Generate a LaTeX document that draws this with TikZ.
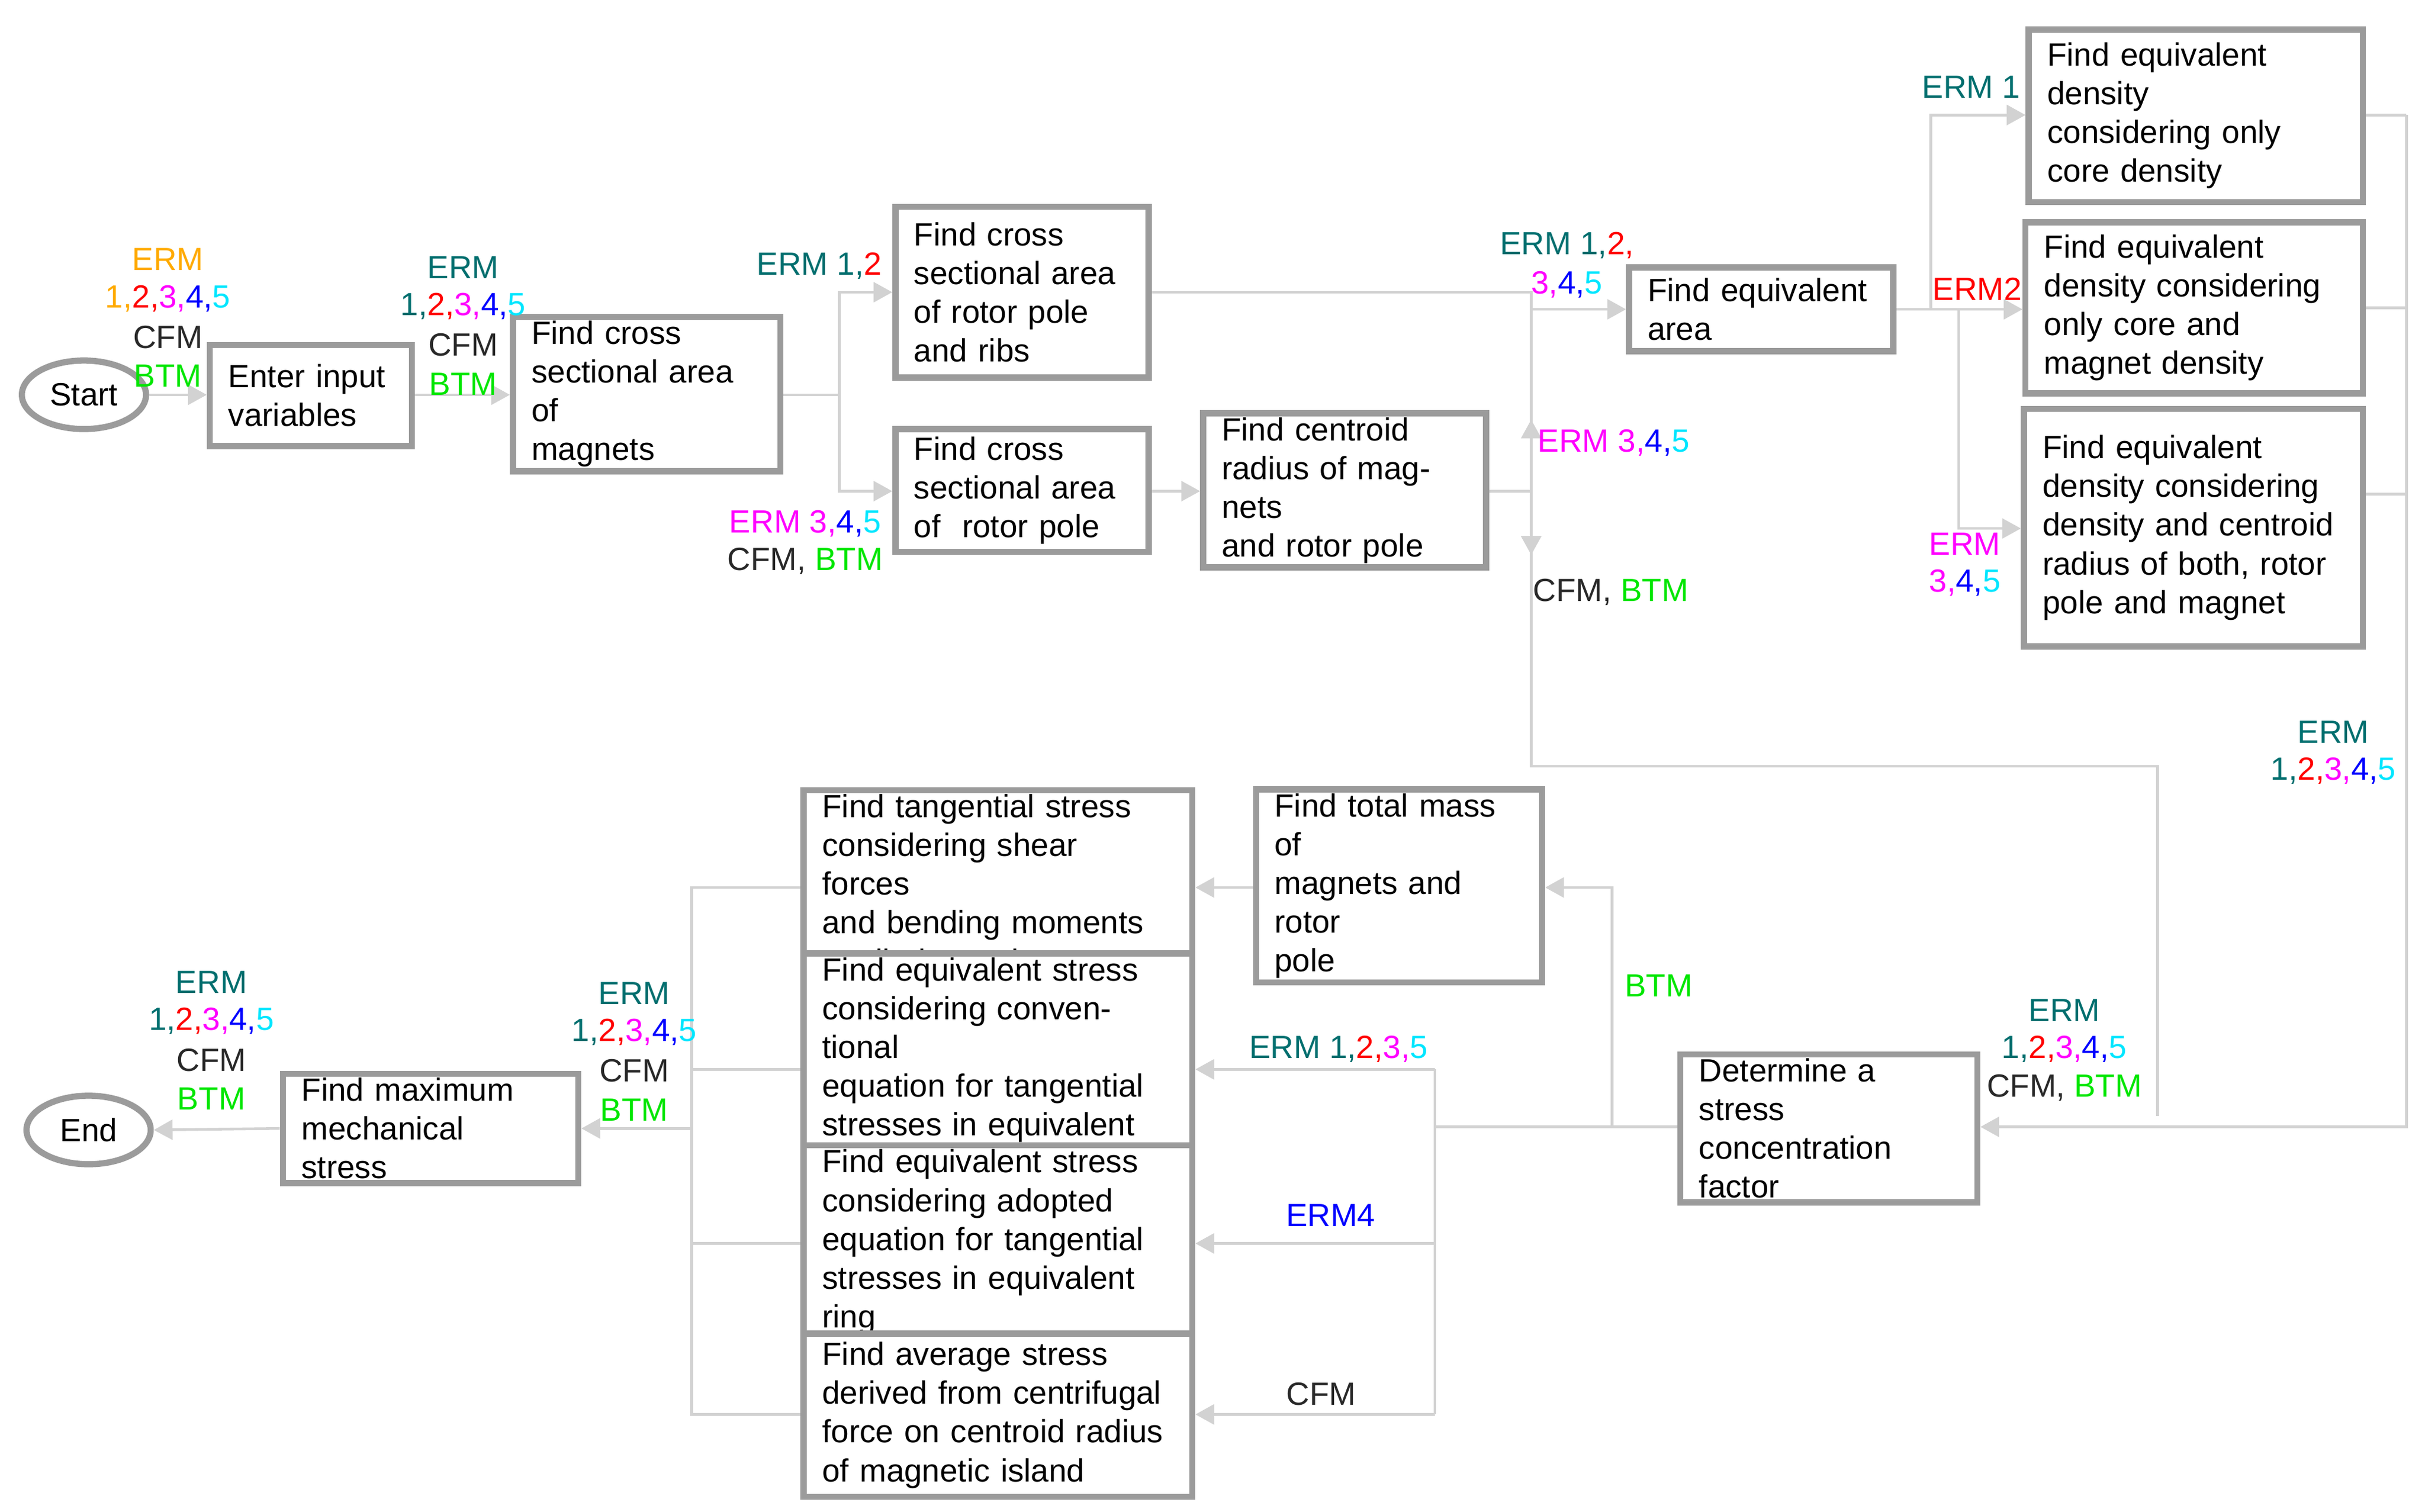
\documentclass[tikz,border=0pt]{standalone}
\usepackage{fontspec}
\setmainfont{Liberation Sans}
\usetikzlibrary{arrows.meta,shapes.geometric}
\definecolor{tl}{RGB}{0,110,110}
\definecolor{og}{RGB}{255,170,0}
\definecolor{mg}{RGB}{255,0,255}
\definecolor{cy}{RGB}{0,230,255}
\definecolor{gr}{RGB}{0,230,0}
\definecolor{dk}{RGB}{40,40,40}
\definecolor{bxc}{RGB}{155,155,155}
\definecolor{lnc}{RGB}{210,210,210}
\newcommand\nums[1]{\textcolor{#1}{1,}\textcolor{red}{2,}\textcolor{mg}{3,}\textcolor{blue}{4,}\textcolor{cy}{5}}
\newcommand\bx[6]{%
 \pgfmathsetlengthmacro\bw{(#4-#2)*0.02653cm-18pt}%
 \node[box, minimum width={(#4-#2)*0.02653cm}, minimum height={(#5-#3)*0.02653cm}, text width=\bw] (#1) at ({(#2+#4)/2},{(#3+#5)/2}) {#6};}
\begin{document}
\begin{tikzpicture}[x=0.02653cm,y=-0.02653cm,
 font=\fontsize{15.6pt}{18.8pt}\selectfont,
 box/.style={draw=bxc,line width=3pt,fill=white,align=left,inner xsep=9pt,inner ysep=2pt},
 ell/.style={draw=bxc,line width=3pt,ellipse,minimum width=2.12cm,minimum height=1.17cm,inner sep=0pt},
 ln/.style={draw=lnc,line width=1.3pt},
 ar/.style={ln,-{Triangle[length=0.32cm,width=0.34cm]}},
 lb/.style={inner sep=0pt,text=dk}]
\useasboundingbox (0,0) rectangle (1560,972.5);
\node[ell] (start) at (54,254) {Start};
\node[ell] (end) at (57,727) {End};
\bx{inp}{135}{222}{265}{287}{Enter input\\variables}
\bx{mag}{330}{216}{502}{291}{Find cross\\sectional area of\\magnets}
\bx{rib}{576}{133}{739}{243}{Find cross\\sectional area\\of rotor pole\\and ribs}
\bx{rp}{576}{276}{739}{355}{Find cross\\sectional area\\of\ \ rotor pole}
\bx{cen}{774}{276}{956}{355}{Find centroid\\radius of magnets\\and rotor pole}
\bx{eqa}{1048}{172}{1218}{226}{Find equivalent\\area}
\bx{d1}{1305}{19}{1520}{130}{Find equivalent\\density\\considering only\\core density}
\bx{d2}{1303}{143}{1520}{253}{Find equivalent\\density considering\\only core and\\magnet density}
\bx{d3}{1302}{263}{1520}{416}{Find equivalent\\density considering\\density and centroid\\radius of both, rotor\\pole and magnet}
\bx{det}{1081}{685}{1272}{767}{Determine a stress\\concentration\\factor}
\bx{tm}{808}{528}{992}{612}{Find total mass of\\magnets and rotor\\pole}
\bx{tan}{517}{514}{767}{627}{Find tangential stress\\considering shear forces\\and bending moments\\applied on a beam}
\bx{conv}{517}{635}{767}{741}{Find equivalent stress\\considering conventional\\equation for tangential\\stresses in equivalent ring}
\bx{adp}{517}{746}{767}{852}{Find equivalent stress\\considering adopted\\equation for tangential\\stresses in equivalent ring}
\bx{avg}{517}{858}{767}{963}{Find average stress\\derived from centrifugal\\force on centroid radius\\of magnetic island}
\bx{mx}{182}{691}{372}{761}{Find maximum\\mechanical stress}
% connectors
\draw[ar] (start.east) -- (inp.west|-start.east);
\draw[ar] (inp.east|-0,254) -- (mag.west|-0,254);
\coordinate (s1) at (540,254);
\draw[ln] (mag.east|-s1) -- (s1);
\draw[ar] (s1) |- (rib.west|-0,188);
\draw[ar] (s1) |- (rp.west|-0,316);
\draw[ar] (rp.east|-0,316) -- (cen.west|-0,316);
\coordinate (v1) at (985,188);
\coordinate (v2) at (985,493);
\coordinate (v3) at (1388,718);
\draw[ln] (rib.east|-v1) -- (v1) -- (v2) -| (v3);
\draw[ar] (v1|-0,199) -- (eqa.west|-0,199);
\draw[ln] (cen.east|-0,316) -- (985,316);
\draw[ar] (985,316) -- (985,270);
\draw[ar] (985,316) -- (985,357);
\coordinate (e1) at (1242,199);
\coordinate (e2) at (1260,199);
\draw[ln] (eqa.east|-e1) -- (e1);
\draw[ar] (e1) |- (d1.west|-0,74);
\draw[ar] (e1) -- (d2.west|-e1);
\draw[ar] (e2) |- (d3.west|-0,340);
\coordinate (r1) at (1548,74);
\coordinate (r2) at (1548,725);
\draw[ln] (d1.east|-r1) -- (r1);
\draw[ln] (d2.east|-0,198) -- (1548,198);
\draw[ln] (d3.east|-0,318) -- (1548,318);
\draw[ar] (r1) -- (r2) -- (det.east|-r2);
\coordinate (b1) at (1037,725);
\coordinate (b2) at (923,725);
\draw[ln] (det.west|-b1) -- (b2);
\draw[ar] (b1) |- (tm.east|-0,571);
\draw[ar] (tm.west|-0,571) -- (tan.east|-0,571);
\draw[ar] (923,688) -- (conv.east|-0,688);
\draw[ar] (923,800) -- (adp.east|-0,800);
\draw[ar] (923,910) -- (avg.east|-0,910);
\draw[ln] (923,688) -- (923,910);
\coordinate (l1) at (445,571);
\coordinate (l2) at (445,910);
\draw[ln] (tan.west|-l1) -- (l1) -- (l2) -- (avg.west|-l2);
\draw[ln] (conv.west|-0,688) -- (445,688);
\draw[ln] (adp.west|-0,800) -- (445,800);
\draw[ar] (445,726) -- (mx.east|-0,726);
\draw[ar] (mx.west|-0,726) -- (end.east);
% labels
\node[lb,text=og] at (108,167) {ERM};
\node[lb] at (108,192) {\nums{og}};
\node[lb] at (108,217) {CFM};
\node[lb,text=gr] at (108,242) {BTM};
\node[lb,text=tl] at (298,172) {ERM};
\node[lb] at (298,197) {\nums{tl}};
\node[lb] at (298,222) {CFM};
\node[lb,text=gr] at (298,247) {BTM};
\node[lb] at (527,171) {\textcolor{tl}{ERM 1,}\textcolor{red}{2}};
\node[lb] at (518,337) {\textcolor{mg}{ERM 3,}\textcolor{blue}{4,}\textcolor{cy}{5}};
\node[lb] at (518,361) {CFM, \textcolor{gr}{BTM}};
\node[lb] at (1008,158) {\textcolor{tl}{ERM 1,}\textcolor{red}{2,}};
\node[lb] at (1008,183) {\textcolor{mg}{3,}\textcolor{blue}{4,}\textcolor{cy}{5}};
\node[lb,anchor=west] at (989,285) {\textcolor{mg}{ERM 3,}\textcolor{blue}{4,}\textcolor{cy}{5}};
\node[lb,anchor=west] at (986,381) {CFM, \textcolor{gr}{BTM}};
\node[lb,text=tl] at (1268,56) {ERM 1};
\node[lb,text=red] at (1272,186) {ERM2};
\node[lb,text=mg] at (1264,350) {ERM};
\node[lb] at (1264,375) {\textcolor{mg}{3,}\textcolor{blue}{4,}\textcolor{cy}{5}};
\node[lb,text=tl] at (1501,471) {ERM};
\node[lb] at (1501,496) {\nums{tl}};
\node[lb,text=tl] at (1328,650) {ERM};
\node[lb] at (1328,675) {\nums{tl}};
\node[lb] at (1328,700) {CFM, \textcolor{gr}{BTM}};
\node[lb,text=gr] at (1067,634) {BTM};
\node[lb] at (861,675) {\textcolor{tl}{ERM 1,}\textcolor{red}{2,}\textcolor{mg}{3,}\textcolor{cy}{5}};
\node[lb,text=blue] at (856,782) {ERM4};
\node[lb] at (850,897) {CFM};
\node[lb,text=tl] at (408,639) {ERM};
\node[lb] at (408,664) {\nums{tl}};
\node[lb] at (408,689) {CFM};
\node[lb,text=gr] at (408,714) {BTM};
\node[lb,text=tl] at (136,632) {ERM};
\node[lb] at (136,657) {\nums{tl}};
\node[lb] at (136,682) {CFM};
\node[lb,text=gr] at (136,707) {BTM};
\end{tikzpicture}
\end{document}
